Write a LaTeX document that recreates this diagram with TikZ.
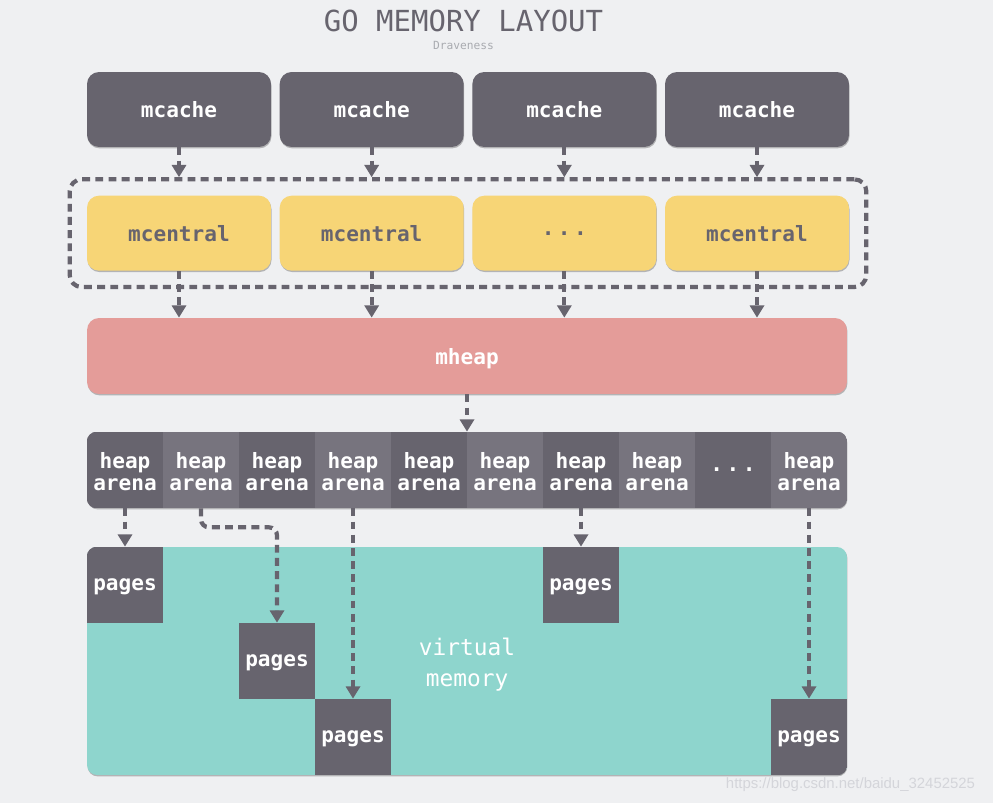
\documentclass[tikz,border=0pt]{standalone}
\usepackage{fontspec}
\setmonofont{DejaVu Sans Mono}
\setsansfont{Liberation Sans}
\usetikzlibrary{positioning,fit,shadows,arrows.meta}
\definecolor{bgcol}{HTML}{EFF0F2}
\definecolor{darkbox}{HTML}{67646E}
\definecolor{lightbox}{HTML}{77747E}
\definecolor{centralcol}{HTML}{F7D576}
\definecolor{heapcol}{HTML}{E49C99}
\definecolor{vmemcol}{HTML}{8ED5CD}
\definecolor{subcol}{HTML}{A9ABB0}
\definecolor{markcol}{HTML}{D4D5DA}
\newcommand{\gaps}{.\kern2pt.\kern2pt.}
\tikzset{
>={Triangle[length=7pt,width=8pt]},
boxfont/.style={font=\ttfamily\bfseries\fontsize{12}{12.5}\selectfont, text depth=0pt},
softshadow/.style={drop shadow={shadow xshift=0.3pt,shadow yshift=-0.8pt,opacity=0.25,fill=black}},
box/.style={boxfont, rounded corners=0.24cm, minimum width=3.68cm, minimum height=1.5cm, inner sep=0pt, softshadow},
cache/.style={box, fill=darkbox, text=white},
central/.style={box, fill=centralcol, text=darkbox},
cell/.style={boxfont, minimum width=1.52cm, minimum height=1.52cm, inner sep=0pt, align=center, text=white},
dashline/.style={draw=darkbox, line width=2.4pt, dash pattern=on 4.5pt off 3pt},
link/.style={->, dashline},
}

\begin{document}
\begin{tikzpicture}[x=0.02cm, y=-0.02cm, node distance=0.16cm]
    \fill[bgcol] (0,0) rectangle (993,803);
    \useasboundingbox (0,0) rectangle (993,803);

    \node[font=\ttfamily\fontsize{16.5}{20}\selectfont, text=darkbox] (title) at (463.5,21) {GO MEMORY LAYOUT};
    \node[font=\ttfamily\fontsize{6.4}{8}\selectfont, text=subcol] (author) at (463.5,45) {Draveness};

    \node[cache] (mc1) at (179,109.5) {mcache};
    \node[cache, right=of mc1] (mc2) {mcache};
    \node[cache, right=of mc2] (mc3) {mcache};
    \node[cache, right=of mc3] (mc4) {mcache};

    \node[central, below=0.96cm of mc1] (ce1) {mcentral};
    \node[central, right=of ce1] (ce2) {mcentral};
    \node[central, right=of ce2] (ce3) {\gaps};
    \node[central, right=of ce3] (ce4) {mcentral};

    \node[dashline, rounded corners=0.24cm, fit=(ce1)(ce4), inner xsep=0.34cm, inner ysep=0.32cm] (group) {};

    \node[box, fill=heapcol, text=white, minimum width=15.2cm, minimum height=1.52cm] (heap) at (467,356) {mheap};

    \node[softshadow, fill=darkbox, rounded corners=0.2cm, minimum width=15.2cm, minimum height=1.52cm] (arenas) at (467,470) {};
    \begin{scope}
        \clip[rounded corners=0.2cm] (arenas.south west) rectangle (arenas.north east);
        \foreach \i/\col in {1/darkbox,2/lightbox,3/darkbox,4/lightbox,5/darkbox,6/lightbox,7/darkbox,8/lightbox,10/lightbox}
            \node[cell, fill=\col, text height=23pt] (a\i) at ({125+76*(\i-1)},470) {heap\\arena};
        \node[cell, fill=darkbox] (a9) at (733,470) {\gaps};
    \end{scope}

    \node[softshadow, fill=vmemcol, rounded corners=0.2cm, minimum width=15.2cm, minimum height=4.56cm] (vmem) at (467,661) {};
    \node[align=center, text=white, font=\ttfamily\fontsize{13}{17.6}\selectfont] (vtext) at (467,665) {virtual\\memory};
    \begin{scope}
        \clip[rounded corners=0.2cm] (vmem.south west) rectangle (vmem.north east);
        \node[cell, fill=darkbox] (p1) at (125,585) {pages};
        \node[cell, fill=darkbox] (p2) at (277,661) {pages};
        \node[cell, fill=darkbox] (p3) at (353,737) {pages};
        \node[cell, fill=darkbox] (p4) at (581,585) {pages};
        \node[cell, fill=darkbox] (p5) at (809,737) {pages};
    \end{scope}

    % mcache -> mcentral group
    \foreach \i in {1,...,4}
        \draw[link] (mc\i.south) -- (mc\i.south |- group.north);
    % mcentral -> mheap
    \foreach \i in {1,...,4}
        \draw[link] (ce\i.south) -- (ce\i.south |- heap.north);
    \draw[link] (heap.south) -- (arenas.north);

    % arenas -> pages
    \draw[link] (a1.south) -- (p1.north);
    \draw[link, rounded corners=0.16cm] (a2.south) -- ++(0,19) -| (p2.north);
    \draw[link] (a4.south) -- (p3.north);
    \draw[link] (a7.south) -- (p4.north);
    \draw[link] (a10.south) -- (p5.north);

    \node[font=\sffamily\fontsize{8.5}{10}\selectfont, text=markcol] (mark) at (850.5,785) {https://blog.csdn.net/baidu\_32452525};
\end{tikzpicture}
\end{document}
